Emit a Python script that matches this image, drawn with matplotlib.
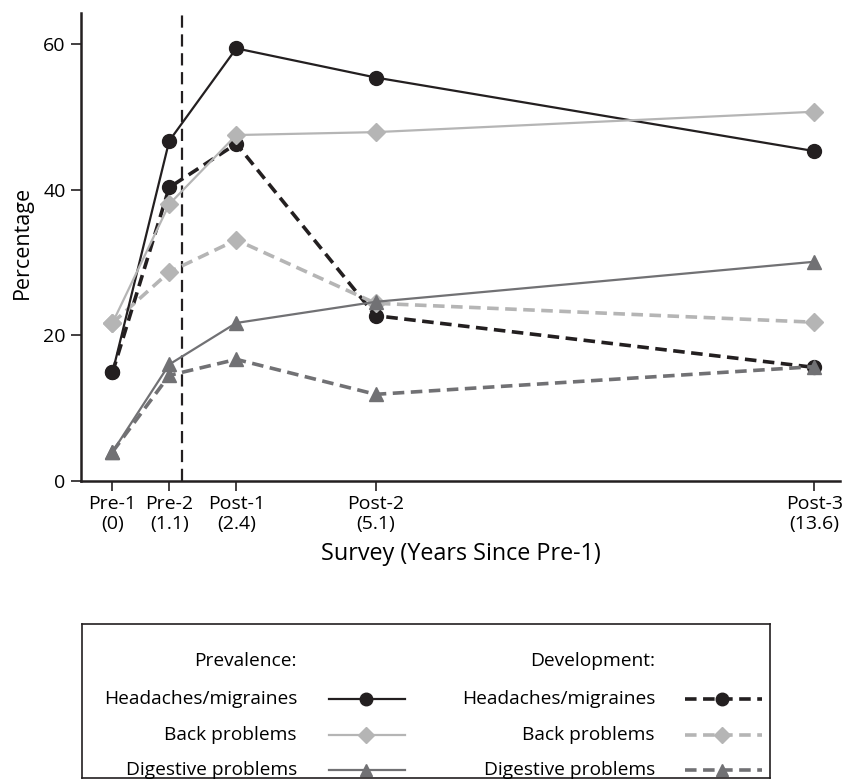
import matplotlib
matplotlib.use("Agg")
import matplotlib.pyplot as plt

years = [0, 1.1, 2.4, 5.1, 13.6]
tick_labels = ["Pre-1\n(0)", "Pre-2\n(1.1)", "Post-1\n(2.4)", "Post-2\n(5.1)", "Post-3\n(13.6)"]
event_year = 1.35

prev_headaches = [14.9, 46.7, 59.4, 55.4, 45.3]
prev_back = [21.7, 38.0, 47.5, 47.9, 50.7]
prev_digestive = [4.0, 16.0, 21.7, 24.6, 30.1]

dev_headaches = [14.9, 40.3, 46.3, 22.7, 15.6]
dev_back = [21.7, 28.7, 33.1, 24.4, 21.8]
dev_digestive = [4.0, 14.5, 16.7, 11.9, 15.7]

categories = ["Headaches/migraines", "Back problems", "Digestive problems"]

plt.rcParams['font.family'] = ['Open Sans', 'DejaVu Sans']

BLACK = "#231f20"
LIGHT = "#b5b5b5"
MID = "#717174"
colors = [BLACK, LIGHT, MID]
markers = ["o", "D", "^"]
msizes = [10, 9, 10]

fig = plt.figure(figsize=(8.43, 7.83), dpi=100)
ax = fig.add_axes([0.0961, 0.3857, 0.9003, 0.5981])

prev = [prev_headaches, prev_back, prev_digestive]
dev = [dev_headaches, dev_back, dev_digestive]
dash = (0, (3.2, 1.8))

ax.axvline(event_year, color=BLACK, lw=1.6, ls=(0, (5.5, 3)), zorder=1)

for i in range(3):
    ax.plot(years, dev[i], color=colors[i], lw=2.6, ls=dash, marker=markers[i],
            ms=msizes[i], mec=colors[i], mfc=colors[i], zorder=2 + i * 0.1)
for i in range(3):
    ax.plot(years, prev[i], color=colors[i], lw=1.6, ls="-", marker=markers[i],
            ms=msizes[i], mec=colors[i], mfc=colors[i], zorder=3 + i * 0.1)

ax.set_xlim(-0.61, 14.1)
ax.set_ylim(0, 64.3)
ax.set_yticks([0, 20, 40, 60])
ax.set_xticks(years)
ax.set_xticklabels(tick_labels, fontsize=14, linespacing=1.12)
ax.tick_params(axis='y', labelsize=14, length=7, width=1.2, color=BLACK, direction='out', pad=4)
ax.tick_params(axis='x', length=7, width=1.2, color=BLACK, direction='out', pad=3)
for s in ["top", "right"]:
    ax.spines[s].set_visible(False)
for s in ["left", "bottom"]:
    ax.spines[s].set_linewidth(1.8)
    ax.spines[s].set_color(BLACK)
ax.set_xlabel("Survey (Years Since Pre-1)", fontsize=16.8, labelpad=7)
ax.set_ylabel("Percentage", fontsize=15.5)
ax.yaxis.set_label_coords(-0.063, 0.51)

# Legend panel
W, H = 843, 783
lx0, ly0, lx1, ly1 = 82, 624, 770, 778
lax = fig.add_axes([lx0 / W, 1 - ly1 / H, (lx1 - lx0) / W, (ly1 - ly0) / H])
lax.set_xlim(lx0, lx1)
lax.set_ylim(ly1, ly0)
lax.set_xticks([])
lax.set_yticks([])
for s in lax.spines.values():
    s.set_linewidth(1.2)
    s.set_color(BLACK)

fs = 13.8
rows_y = [699, 735, 770]
lax.text(297, 661, "Prevalence:", ha="right", va="center", fontsize=fs)
lax.text(655, 661, "Development:", ha="right", va="center", fontsize=fs)
for i, name in enumerate(categories):
    y = rows_y[i]
    lax.text(297, y, name, ha="right", va="center", fontsize=fs)
    lax.text(655, y, name, ha="right", va="center", fontsize=fs)
    lax.plot([329, 405], [y, y], color=colors[i], lw=1.6, ls="-")
    lax.plot([366], [y], marker=markers[i], ms=msizes[i] - 1, color=colors[i])
    lax.plot([685, 762], [y, y], color=colors[i], lw=2.6, ls=dash)
    lax.plot([722], [y], marker=markers[i], ms=msizes[i] - 1, color=colors[i])

fig.savefig("out.png", dpi=100)
